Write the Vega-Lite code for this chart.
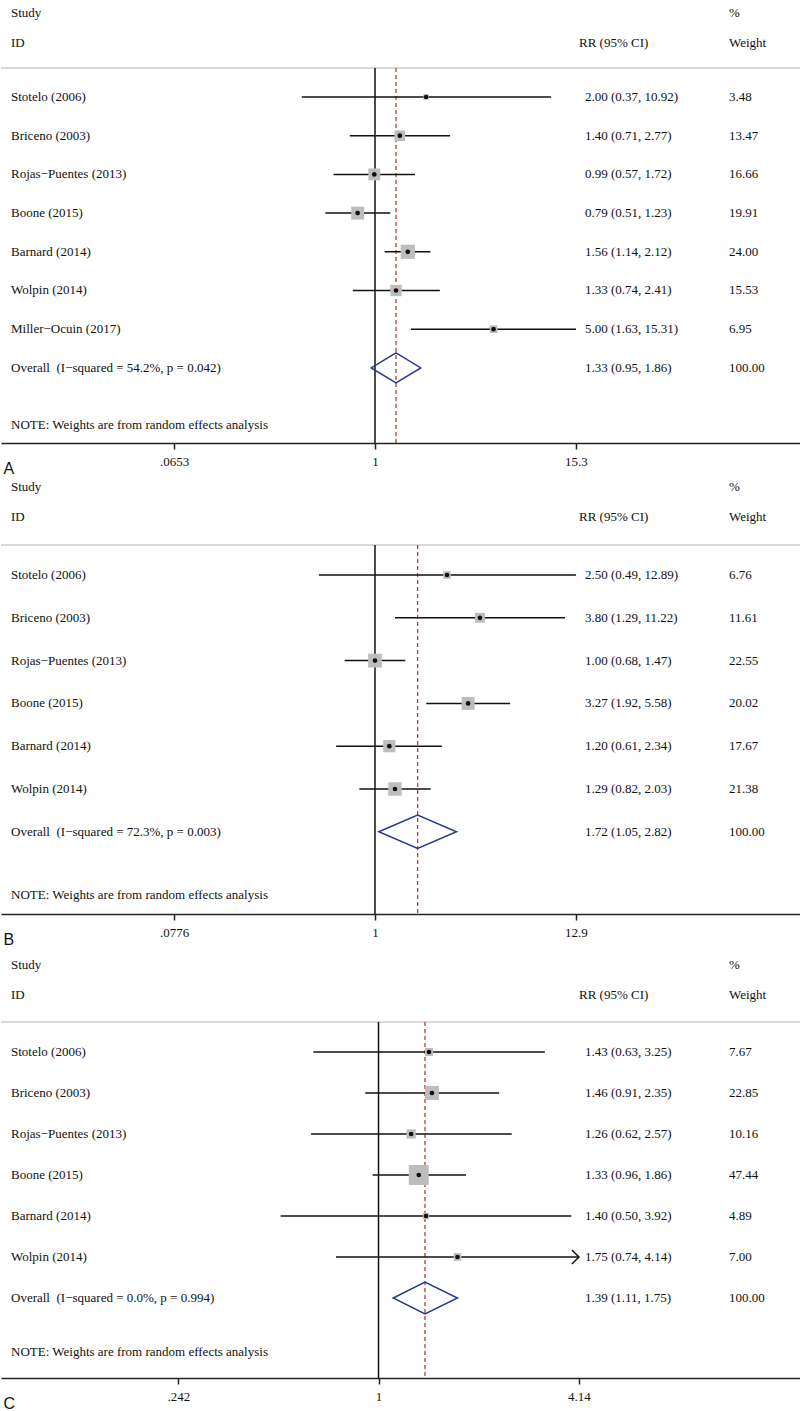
{
"$schema": "https://vega.github.io/schema/vega-lite/v6.json",
"padding": 0,
"background": "white",
"spacing": 31,
"bounds": "flush",
"config": {
  "view": {"stroke": null},
  "text": {"font": "Liberation Serif", "fontSize": 13, "color": "#111", "align": "left", "baseline": "middle"},
  "axis": {"grid": false, "domainColor": "#222", "domainWidth": 1.5, "tickColor": "#222", "tickWidth": 1.5, "tickSize": 6, "labelPadding": 6, "labelFont": "Liberation Serif", "labelFontSize": 13, "labelColor": "#111", "labelFlush": false, "labelOverlap": false, "titleFont": "Liberation Sans", "titleFontSize": 16, "titleFontWeight": "normal", "titleColor": "#111", "titleX": 2, "titleY": 25, "titleAlign": "left", "titleBaseline": "middle", "titleAnchor": "start"}
},
"vconcat": [
{
  "width": 800, "height": 443,
  "data": {"values": [
    {"study": "Stotelo (2006)", "rr": 2.00, "lo": 0.37, "hi": 10.92, "weight": 3.48, "type": "study"},
    {"study": "Briceno (2003)", "rr": 1.40, "lo": 0.71, "hi": 2.77, "weight": 13.47, "type": "study"},
    {"study": "Rojas\u2212Puentes (2013)", "rr": 0.99, "lo": 0.57, "hi": 1.72, "weight": 16.66, "type": "study"},
    {"study": "Boone (2015)", "rr": 0.79, "lo": 0.51, "hi": 1.23, "weight": 19.91, "type": "study"},
    {"study": "Barnard (2014)", "rr": 1.56, "lo": 1.14, "hi": 2.12, "weight": 24.00, "type": "study"},
    {"study": "Wolpin (2014)", "rr": 1.33, "lo": 0.74, "hi": 2.41, "weight": 15.53, "type": "study"},
    {"study": "Miller\u2212Ocuin (2017)", "rr": 5.00, "lo": 1.63, "hi": 15.31, "weight": 6.95, "type": "study"},
    {"study": "Overall\u00a0 (I\u2212squared = 54.2%, p = 0.042)", "rr": 1.33, "lo": 0.95, "hi": 1.86, "weight": 100.00, "type": "overall"}
  ]},
  "transform": [
    {"window": [{"op": "row_number", "as": "row"}]},
    {"calculate": "format(datum.rr,'.2f') + ' (' + format(datum.lo,'.2f') + ', ' + format(datum.hi,'.2f') + ')'", "as": "ci"},
    {"calculate": "format(datum.weight,'.2f')", "as": "wt"}
  ],
  "resolve": {"scale": {"x": "independent"}},
  "layer": [
    {"layer": [
      {"data": {"values": [{}]}, "mark": {"type": "rule", "color": "#b5b5b5", "strokeWidth": 1},
       "encoding": {"y": {"datum": 0.2506, "type": "quantitative", "scale": {"domain": [-1.5065, 9.9406], "reverse": true, "nice": false, "zero": false}, "axis": null}}},
      {"data": {"values": [{}]}, "mark": {"type": "rule", "color": "#111", "strokeWidth": 1.5},
       "encoding": {"x": {"datum": 1, "type": "quantitative"}, "y": {"datum": 0.2506, "type": "quantitative", "axis": null}, "y2": {"datum": 9.9406}}},
      {"transform": [{"filter": "datum.type == 'overall'"}], "mark": {"type": "rule", "color": "#c0392b", "strokeWidth": 1.3, "strokeDash": [4, 3]},
       "encoding": {"x": {"field": "rr", "type": "quantitative"}, "y": {"datum": 0.2506, "type": "quantitative", "axis": null}, "y2": {"datum": 9.9406}}},
      {"transform": [{"filter": "datum.type == 'study'"}], "mark": {"type": "rule", "color": "#111", "strokeWidth": 1.5},
       "encoding": {
         "x": {"field": "lo", "type": "quantitative", "scale": {"type": "log", "domain": [0.006234, 324.8], "nice": false, "zero": false},
               "axis": {"values": [0.0653, 1, 15.3], "labelExpr": "datum.value < 1 ? substring(toString(datum.value), 1) : toString(datum.value)", "title": "A"}},
         "x2": {"field": "hi"},
         "y": {"field": "row", "type": "quantitative", "scale": {"domain": [-1.5065, 9.9406], "reverse": true, "nice": false, "zero": false}, "axis": null}}},
      {"transform": [{"filter": "datum.type == 'study'"}], "mark": {"type": "point", "shape": "square", "filled": true, "color": "#bdbdbd", "opacity": 1},
       "encoding": {"x": {"field": "rr", "type": "quantitative"}, "y": {"field": "row", "type": "quantitative", "axis": null},
         "size": {"field": "weight", "type": "quantitative", "scale": {"domain": [0, 47.44], "range": [0, 400]}, "legend": null}}},
      {"transform": [{"filter": "datum.type == 'study'"}], "mark": {"type": "point", "shape": "circle", "filled": true, "color": "#111", "opacity": 1, "size": 22},
       "encoding": {"x": {"field": "rr", "type": "quantitative"}, "y": {"field": "row", "type": "quantitative", "axis": null}}},
      {"transform": [{"filter": "datum.type == 'overall'"}, {"fold": ["lo", "rr", "hi"], "as": ["k", "xv"]}, {"calculate": "datum.k == 'rr' ? 0.39 : 0", "as": "h"}, {"calculate": "datum.row - datum.h", "as": "ya"}, {"calculate": "datum.row + datum.h", "as": "yb"}],
       "mark": {"type": "area", "orient": "vertical", "fill": "white", "fillOpacity": 0, "stroke": "#2a3990", "strokeWidth": 1.5},
       "encoding": {"x": {"field": "xv", "type": "quantitative"}, "y": {"field": "ya", "type": "quantitative", "axis": null}, "y2": {"field": "yb"}}}
    ]},
    {"layer": [
      {"mark": {"type": "text"}, "encoding": {"x": {"datum": 1.25, "type": "quantitative", "scale": {"domain": [0, 100], "nice": false, "zero": false}, "axis": null}, "y": {"field": "row", "type": "quantitative", "axis": null}, "text": {"field": "study"}}},
      {"mark": {"type": "text"}, "encoding": {"x": {"datum": 73, "type": "quantitative", "axis": null}, "y": {"field": "row", "type": "quantitative", "axis": null}, "text": {"field": "ci"}}},
      {"mark": {"type": "text"}, "encoding": {"x": {"datum": 91, "type": "quantitative", "axis": null}, "y": {"field": "row", "type": "quantitative", "axis": null}, "text": {"field": "wt"}}},
      {"data": {"values": [{}]}, "mark": {"type": "text", "text": "Study"}, "encoding": {"x": {"datum": 1.25, "type": "quantitative", "axis": null}, "y": {"datum": -1.1705, "type": "quantitative", "axis": null}}},
      {"data": {"values": [{}]}, "mark": {"type": "text", "text": "ID"}, "encoding": {"x": {"datum": 1.25, "type": "quantitative", "axis": null}, "y": {"datum": -0.3953, "type": "quantitative", "axis": null}}},
      {"data": {"values": [{}]}, "mark": {"type": "text", "text": "RR (95% CI)"}, "encoding": {"x": {"datum": 72.25, "type": "quantitative", "axis": null}, "y": {"datum": -0.3953, "type": "quantitative", "axis": null}}},
      {"data": {"values": [{}]}, "mark": {"type": "text", "text": "%"}, "encoding": {"x": {"datum": 91, "type": "quantitative", "axis": null}, "y": {"datum": -1.1705, "type": "quantitative", "axis": null}}},
      {"data": {"values": [{}]}, "mark": {"type": "text", "text": "Weight"}, "encoding": {"x": {"datum": 91, "type": "quantitative", "axis": null}, "y": {"datum": -0.3953, "type": "quantitative", "axis": null}}},
      {"data": {"values": [{}]}, "mark": {"type": "text", "text": "NOTE: Weights are from random effects analysis"}, "encoding": {"x": {"datum": 1.25, "type": "quantitative", "axis": null}, "y": {"datum": 9.4755, "type": "quantitative", "axis": null}}}
    ]}
  ]
},
{
  "width": 800, "height": 440,
  "data": {"values": [
    {"study": "Stotelo (2006)", "rr": 2.50, "lo": 0.49, "hi": 12.89, "weight": 6.76, "type": "study"},
    {"study": "Briceno (2003)", "rr": 3.80, "lo": 1.29, "hi": 11.22, "weight": 11.61, "type": "study"},
    {"study": "Rojas\u2212Puentes (2013)", "rr": 1.00, "lo": 0.68, "hi": 1.47, "weight": 22.55, "type": "study"},
    {"study": "Boone (2015)", "rr": 3.27, "lo": 1.92, "hi": 5.58, "weight": 20.02, "type": "study"},
    {"study": "Barnard (2014)", "rr": 1.20, "lo": 0.61, "hi": 2.34, "weight": 17.67, "type": "study"},
    {"study": "Wolpin (2014)", "rr": 1.29, "lo": 0.82, "hi": 2.03, "weight": 21.38, "type": "study"},
    {"study": "Overall\u00a0 (I\u2212squared = 72.3%, p = 0.003)", "rr": 1.72, "lo": 1.05, "hi": 2.82, "weight": 100.00, "type": "overall"}
  ]},
  "transform": [
    {"window": [{"op": "row_number", "as": "row"}]},
    {"calculate": "format(datum.rr,'.2f') + ' (' + format(datum.lo,'.2f') + ', ' + format(datum.hi,'.2f') + ')'", "as": "ci"},
    {"calculate": "format(datum.weight,'.2f')", "as": "wt"}
  ],
  "resolve": {"scale": {"x": "independent"}},
  "layer": [
    {"layer": [
      {"data": {"values": [{}]}, "mark": {"type": "rule", "color": "#b5b5b5", "strokeWidth": 1},
       "encoding": {"y": {"datum": 0.2991, "type": "quantitative", "scale": {"domain": [-1.3598, 8.9206], "reverse": true, "nice": false, "zero": false}, "axis": null}}},
      {"data": {"values": [{}]}, "mark": {"type": "rule", "color": "#111", "strokeWidth": 1.5},
       "encoding": {"x": {"datum": 1, "type": "quantitative"}, "y": {"datum": 0.2991, "type": "quantitative", "axis": null}, "y2": {"datum": 8.9206}}},
      {"transform": [{"filter": "datum.type == 'overall'"}], "mark": {"type": "rule", "color": "#c0392b", "strokeWidth": 1.3, "strokeDash": [4, 3]},
       "encoding": {"x": {"field": "rr", "type": "quantitative"}, "y": {"datum": 0.2991, "type": "quantitative", "axis": null}, "y2": {"datum": 8.9206}}},
      {"transform": [{"filter": "datum.type == 'study'"}], "mark": {"type": "rule", "color": "#111", "strokeWidth": 1.5},
       "encoding": {
         "x": {"field": "lo", "type": "quantitative", "scale": {"type": "log", "domain": [0.008585, 225.8], "nice": false, "zero": false},
               "axis": {"values": [0.0776, 1, 12.9], "labelExpr": "datum.value < 1 ? substring(toString(datum.value), 1) : toString(datum.value)", "title": "B"}},
         "x2": {"field": "hi"},
         "y": {"field": "row", "type": "quantitative", "scale": {"domain": [-1.3598, 8.9206], "reverse": true, "nice": false, "zero": false}, "axis": null}}},
      {"transform": [{"filter": "datum.type == 'study'"}], "mark": {"type": "point", "shape": "square", "filled": true, "color": "#bdbdbd", "opacity": 1},
       "encoding": {"x": {"field": "rr", "type": "quantitative"}, "y": {"field": "row", "type": "quantitative", "axis": null},
         "size": {"field": "weight", "type": "quantitative", "scale": {"domain": [0, 47.44], "range": [0, 400]}, "legend": null}}},
      {"transform": [{"filter": "datum.type == 'study'"}], "mark": {"type": "point", "shape": "circle", "filled": true, "color": "#111", "opacity": 1, "size": 22},
       "encoding": {"x": {"field": "rr", "type": "quantitative"}, "y": {"field": "row", "type": "quantitative", "axis": null}}},
      {"transform": [{"filter": "datum.type == 'overall'"}, {"fold": ["lo", "rr", "hi"], "as": ["k", "xv"]}, {"calculate": "datum.k == 'rr' ? 0.39 : 0", "as": "h"}, {"calculate": "datum.row - datum.h", "as": "ya"}, {"calculate": "datum.row + datum.h", "as": "yb"}],
       "mark": {"type": "area", "orient": "vertical", "fill": "white", "fillOpacity": 0, "stroke": "#2a3990", "strokeWidth": 1.5},
       "encoding": {"x": {"field": "xv", "type": "quantitative"}, "y": {"field": "ya", "type": "quantitative", "axis": null}, "y2": {"field": "yb"}}}
    ]},
    {"layer": [
      {"mark": {"type": "text"}, "encoding": {"x": {"datum": 1.25, "type": "quantitative", "scale": {"domain": [0, 100], "nice": false, "zero": false}, "axis": null}, "y": {"field": "row", "type": "quantitative", "axis": null}, "text": {"field": "study"}}},
      {"mark": {"type": "text"}, "encoding": {"x": {"datum": 73, "type": "quantitative", "axis": null}, "y": {"field": "row", "type": "quantitative", "axis": null}, "text": {"field": "ci"}}},
      {"mark": {"type": "text"}, "encoding": {"x": {"datum": 91, "type": "quantitative", "axis": null}, "y": {"field": "row", "type": "quantitative", "axis": null}, "text": {"field": "wt"}}},
      {"data": {"values": [{}]}, "mark": {"type": "text", "text": "Study"}, "encoding": {"x": {"datum": 1.25, "type": "quantitative", "axis": null}, "y": {"datum": -1.0561, "type": "quantitative", "axis": null}}},
      {"data": {"values": [{}]}, "mark": {"type": "text", "text": "ID"}, "encoding": {"x": {"datum": 1.25, "type": "quantitative", "axis": null}, "y": {"datum": -0.3551, "type": "quantitative", "axis": null}}},
      {"data": {"values": [{}]}, "mark": {"type": "text", "text": "RR (95% CI)"}, "encoding": {"x": {"datum": 72.25, "type": "quantitative", "axis": null}, "y": {"datum": -0.3551, "type": "quantitative", "axis": null}}},
      {"data": {"values": [{}]}, "mark": {"type": "text", "text": "%"}, "encoding": {"x": {"datum": 91, "type": "quantitative", "axis": null}, "y": {"datum": -1.0561, "type": "quantitative", "axis": null}}},
      {"data": {"values": [{}]}, "mark": {"type": "text", "text": "Weight"}, "encoding": {"x": {"datum": 91, "type": "quantitative", "axis": null}, "y": {"datum": -0.3551, "type": "quantitative", "axis": null}}},
      {"data": {"values": [{}]}, "mark": {"type": "text", "text": "NOTE: Weights are from random effects analysis"}, "encoding": {"x": {"datum": 1.25, "type": "quantitative", "axis": null}, "y": {"datum": 8.4766, "type": "quantitative", "axis": null}}}
    ]}
  ]
},
{
  "width": 800, "height": 433,
  "data": {"values": [
    {"study": "Stotelo (2006)", "rr": 1.43, "lo": 0.63, "hi": 3.25, "weight": 7.67, "type": "study"},
    {"study": "Briceno (2003)", "rr": 1.46, "lo": 0.91, "hi": 2.35, "weight": 22.85, "type": "study"},
    {"study": "Rojas\u2212Puentes (2013)", "rr": 1.26, "lo": 0.62, "hi": 2.57, "weight": 10.16, "type": "study"},
    {"study": "Boone (2015)", "rr": 1.33, "lo": 0.96, "hi": 1.86, "weight": 47.44, "type": "study"},
    {"study": "Barnard (2014)", "rr": 1.40, "lo": 0.50, "hi": 3.92, "weight": 4.89, "type": "study"},
    {"study": "Wolpin (2014)", "rr": 1.75, "lo": 0.74, "hi": 4.14, "weight": 7.00, "type": "study"},
    {"study": "Overall\u00a0 (I\u2212squared = 0.0%, p = 0.994)", "rr": 1.39, "lo": 1.11, "hi": 1.75, "weight": 100.00, "type": "overall"}
  ]},
  "transform": [
    {"window": [{"op": "row_number", "as": "row"}]},
    {"calculate": "format(datum.rr,'.2f') + ' (' + format(datum.lo,'.2f') + ', ' + format(datum.hi,'.2f') + ')'", "as": "ci"},
    {"calculate": "format(datum.weight,'.2f')", "as": "wt"}
  ],
  "resolve": {"scale": {"x": "independent"}},
  "layer": [
    {"layer": [
      {"data": {"values": [{}]}, "mark": {"type": "rule", "color": "#b5b5b5", "strokeWidth": 1},
       "encoding": {"y": {"datum": 0.2683, "type": "quantitative", "scale": {"domain": [-1.6098, 8.9512], "reverse": true, "nice": false, "zero": false}, "axis": null}}},
      {"data": {"values": [{}]}, "mark": {"type": "rule", "color": "#111", "strokeWidth": 1.5},
       "encoding": {"x": {"datum": 1, "type": "quantitative"}, "y": {"datum": 0.2683, "type": "quantitative", "axis": null}, "y2": {"datum": 8.9512}}},
      {"transform": [{"filter": "datum.type == 'overall'"}], "mark": {"type": "rule", "color": "#c0392b", "strokeWidth": 1.3, "strokeDash": [4, 3]},
       "encoding": {"x": {"field": "rr", "type": "quantitative"}, "y": {"datum": 0.2683, "type": "quantitative", "axis": null}, "y2": {"datum": 8.9512}}},
      {"transform": [{"filter": "datum.type == 'study'"}], "mark": {"type": "rule", "color": "#111", "strokeWidth": 1.5},
       "encoding": {
         "x": {"field": "lo", "type": "quantitative", "scale": {"type": "log", "domain": [0.06887, 19.97], "nice": false, "zero": false},
               "axis": {"values": [0.242, 1, 4.14], "labelExpr": "datum.value < 1 ? substring(toString(datum.value), 1) : toString(datum.value)", "title": "C"}},
         "x2": {"field": "hi"},
         "y": {"field": "row", "type": "quantitative", "scale": {"domain": [-1.6098, 8.9512], "reverse": true, "nice": false, "zero": false}, "axis": null}}},
      {"transform": [{"filter": "datum.type == 'study'"}], "mark": {"type": "point", "shape": "square", "filled": true, "color": "#bdbdbd", "opacity": 1},
       "encoding": {"x": {"field": "rr", "type": "quantitative"}, "y": {"field": "row", "type": "quantitative", "axis": null},
         "size": {"field": "weight", "type": "quantitative", "scale": {"domain": [0, 47.44], "range": [0, 400]}, "legend": null}}},
      {"transform": [{"filter": "datum.type == 'study'"}], "mark": {"type": "point", "shape": "circle", "filled": true, "color": "#111", "opacity": 1, "size": 22},
       "encoding": {"x": {"field": "rr", "type": "quantitative"}, "y": {"field": "row", "type": "quantitative", "axis": null}}},
      {"transform": [{"filter": "datum.type == 'study' && datum.hi >= 4.14"}], "mark": {"type": "point", "shape": "M-1,-1L0,0L-1,1", "filled": false, "stroke": "#111", "strokeWidth": 1.5, "opacity": 1, "size": 200},
       "encoding": {"x": {"field": "hi", "type": "quantitative"}, "y": {"field": "row", "type": "quantitative", "axis": null}}},
      {"transform": [{"filter": "datum.type == 'overall'"}, {"fold": ["lo", "rr", "hi"], "as": ["k", "xv"]}, {"calculate": "datum.k == 'rr' ? 0.39 : 0", "as": "h"}, {"calculate": "datum.row - datum.h", "as": "ya"}, {"calculate": "datum.row + datum.h", "as": "yb"}],
       "mark": {"type": "area", "orient": "vertical", "fill": "white", "fillOpacity": 0, "stroke": "#2a3990", "strokeWidth": 1.5},
       "encoding": {"x": {"field": "xv", "type": "quantitative"}, "y": {"field": "ya", "type": "quantitative", "axis": null}, "y2": {"field": "yb"}}}
    ]},
    {"layer": [
      {"mark": {"type": "text"}, "encoding": {"x": {"datum": 1.25, "type": "quantitative", "scale": {"domain": [0, 100], "nice": false, "zero": false}, "axis": null}, "y": {"field": "row", "type": "quantitative", "axis": null}, "text": {"field": "study"}}},
      {"mark": {"type": "text"}, "encoding": {"x": {"datum": 73, "type": "quantitative", "axis": null}, "y": {"field": "row", "type": "quantitative", "axis": null}, "text": {"field": "ci"}}},
      {"mark": {"type": "text"}, "encoding": {"x": {"datum": 91, "type": "quantitative", "axis": null}, "y": {"field": "row", "type": "quantitative", "axis": null}, "text": {"field": "wt"}}},
      {"data": {"values": [{}]}, "mark": {"type": "text", "text": "Study"}, "encoding": {"x": {"datum": 1.25, "type": "quantitative", "axis": null}, "y": {"datum": -1.122, "type": "quantitative", "axis": null}}},
      {"data": {"values": [{}]}, "mark": {"type": "text", "text": "ID"}, "encoding": {"x": {"datum": 1.25, "type": "quantitative", "axis": null}, "y": {"datum": -0.3902, "type": "quantitative", "axis": null}}},
      {"data": {"values": [{}]}, "mark": {"type": "text", "text": "RR (95% CI)"}, "encoding": {"x": {"datum": 72.25, "type": "quantitative", "axis": null}, "y": {"datum": -0.3902, "type": "quantitative", "axis": null}}},
      {"data": {"values": [{}]}, "mark": {"type": "text", "text": "%"}, "encoding": {"x": {"datum": 91, "type": "quantitative", "axis": null}, "y": {"datum": -1.122, "type": "quantitative", "axis": null}}},
      {"data": {"values": [{}]}, "mark": {"type": "text", "text": "Weight"}, "encoding": {"x": {"datum": 91, "type": "quantitative", "axis": null}, "y": {"datum": -0.3902, "type": "quantitative", "axis": null}}},
      {"data": {"values": [{}]}, "mark": {"type": "text", "text": "NOTE: Weights are from random effects analysis"}, "encoding": {"x": {"datum": 1.25, "type": "quantitative", "axis": null}, "y": {"datum": 8.3171, "type": "quantitative", "axis": null}}}
    ]}
  ]
}
]
}
